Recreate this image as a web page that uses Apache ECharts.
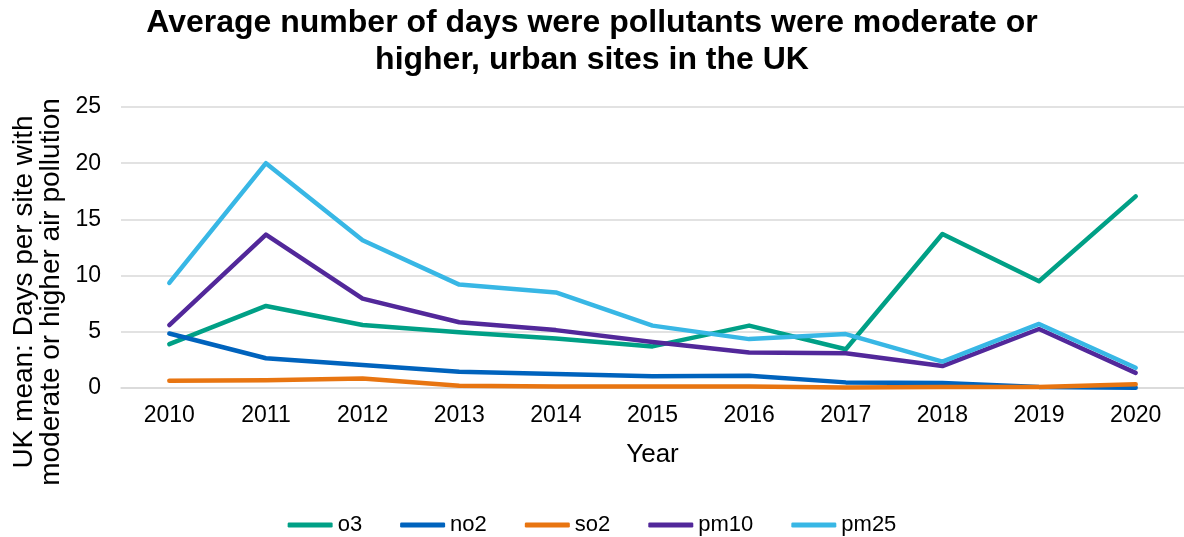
<!DOCTYPE html>
<html>
<head>
<meta charset="utf-8">
<script src="https://cdn.jsdelivr.net/npm/echarts@6/dist/echarts.min.js"></script>
<style>
html,body{margin:0;padding:0;background:#fff;}
#chart{width:1184px;height:537px;}
</style>
</head>
<body>
<div id="chart"></div>
<script>
var years = ['2010','2011','2012','2013','2014','2015','2016','2017','2018','2019','2020'];
var o3   = [3.9, 7.3, 5.6, 4.95, 4.4, 3.7, 5.55, 3.45, 13.7, 9.5, 17.05];
var no2  = [4.85, 2.65, 2.05, 1.45, 1.25, 1.05, 1.1, 0.5, 0.45, 0.1, 0.03];
var so2  = [0.65, 0.7, 0.85, 0.2, 0.13, 0.13, 0.13, 0.05, 0.08, 0.08, 0.33];
var pm10 = [5.6, 13.65, 7.95, 5.85, 5.15, 4.1, 3.15, 3.1, 1.95, 5.25, 1.35];
var pm25 = [9.35, 20.0, 13.15, 9.2, 8.5, 5.55, 4.35, 4.8, 2.35, 5.7, 1.8];
var yTicks = [0, 5, 10, 15, 20, 25];

var names = ['o3','no2','so2','pm10','pm25'];
var dataSets = [o3, no2, so2, pm10, pm25];
var colors = ['#00a086', '#0063bd', '#e87511', '#52289a', '#38b7e5'];

var font = 'Liberation Sans, Arial, sans-serif';
var chart = echarts.init(document.getElementById('chart'), null, {renderer:'canvas'});

var series = names.map(function(n, i){
  return {
    name: n, type: 'line', data: dataSets[i],
    symbol: 'none', showSymbol: false,
    color: colors[i],
    lineStyle: {width: 4.5, color: colors[i], cap: 'round', join: 'round'},
    itemStyle: {color: colors[i]},
    emphasis: {disabled: true}
  };
});

chart.setOption({
  animation: false,
  backgroundColor: '#ffffff',
  title: {
    text: 'Average number of days were pollutants were moderate or\nhigher, urban sites in the UK',
    left: 'center', top: 0,
    textStyle: {fontFamily: font, fontSize: 32, fontWeight: 'bold', color: '#000', lineHeight: 37}
  },
  grid: {left: 121, right: 0, top: 107, bottom: 149, containLabel: false},
  legend: {
    data: names,
    left: 'center', top: 509,
    icon: 'roundRect',
    itemWidth: 45, itemHeight: 5, itemGap: 38,
    textStyle: {fontFamily: font, fontSize: 22, color: '#000'}
  },
  xAxis: {
    type: 'category', data: years, boundaryGap: true,
    name: 'Year', nameLocation: 'middle', nameGap: 54,
    nameTextStyle: {fontFamily: font, fontSize: 26, color: '#000'},
    axisLine: {show: true, lineStyle: {color: '#d9d9d9', width: 1.5}},
    axisTick: {show: false},
    axisLabel: {fontFamily: font, fontSize: 23, color: '#000', margin: 16, interval: 0}
  },
  yAxis: {
    type: 'value', min: yTicks[0], max: yTicks[yTicks.length-1], interval: 5,
    axisLine: {show: false}, axisTick: {show: false},
    axisLabel: {fontFamily: font, fontSize: 23, color: '#000', margin: 20},
    splitLine: {show: true, lineStyle: {color: '#d9d9d9', width: 1.5}}
  },
  graphic: [{
    type: 'text', x: 38, y: 292, rotation: Math.PI/2,
    style: {
      text: 'UK mean: Days per site with\nmoderate or higher air pollution',
      fontFamily: font, fontSize: 28, lineHeight: 27, fill: '#000',
      align: 'center', verticalAlign: 'middle'
    }
  }],
  series: series
});
</script>
</body>
</html>
